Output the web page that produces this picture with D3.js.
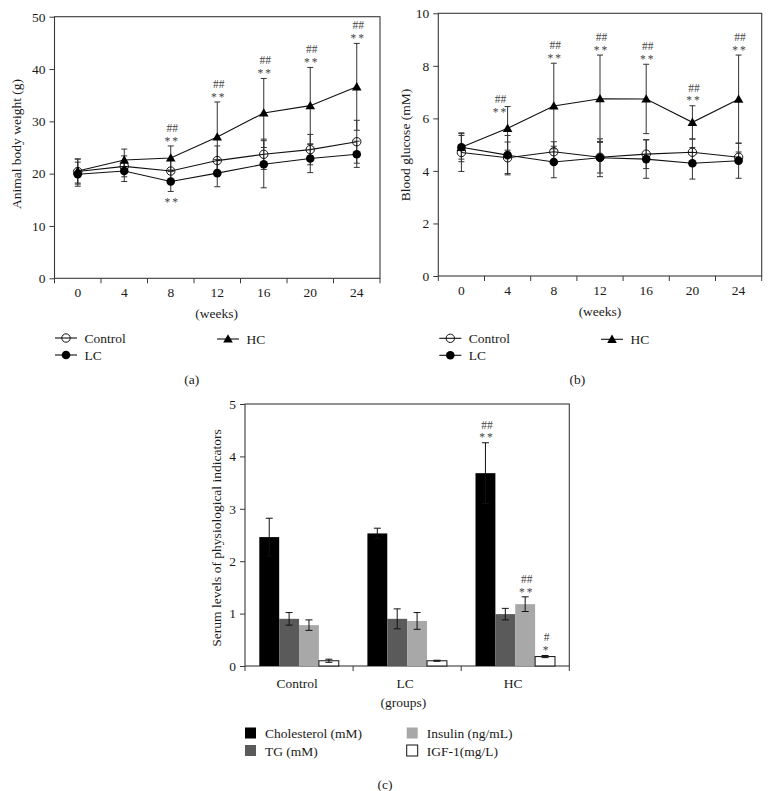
<!DOCTYPE html>
<html><head><meta charset="utf-8">
<script src="https://cdn.jsdelivr.net/npm/d3@7"></script>
<style>
body{margin:0;background:#fff}
text{font-family:"Liberation Serif","DejaVu Serif",serif;fill:#1a1a1a}
</style>
</head><body>
<svg id="chart" width="772" height="791"></svg>
<script>
// ---------------- data ----------------
const weeks = ["0","4","8","12","16","20","24"];

// (a) body weight (g)
const weightControl   = [20.4, 21.4, 20.5, 22.5, 23.7, 24.6, 26.1];
const weightControlSD = [2.4, 2.0, 2.2, 2.8, 2.9, 2.9, 4.1];
const weightLC        = [19.9, 20.5, 18.5, 20.1, 21.8, 22.9, 23.7];
const weightLCSD      = [2.3, 2.0, 1.9, 2.6, 4.5, 2.7, 2.5];
const weightHC        = [20.5, 22.6, 23.0, 27.0, 31.6, 33.0, 36.6];
const weightHCSD      = [2.3, 2.1, 2.3, 6.7, 6.6, 7.3, 8.3];
const weightTicks     = [0, 10, 20, 30, 40, 50];
const weightSigHC     = ["8","12","16","20","24"];
const weightSigLC     = ["8"];

// (b) blood glucose (mM)
const glucoseControl   = [4.70, 4.50, 4.73, 4.52, 4.64, 4.71, 4.52];
const glucoseControlSD = [0.72, 0.60, 0.38, 0.60, 0.55, 0.50, 0.20];
const glucoseLC        = [4.90, 4.60, 4.34, 4.50, 4.45, 4.29, 4.39];
const glucoseLCSD      = [0.45, 0.75, 0.60, 0.72, 0.73, 0.60, 0.67];
const glucoseHC        = [4.90, 5.62, 6.47, 6.75, 6.74, 5.85, 6.73];
const glucoseHCSD      = [0.55, 0.83, 1.63, 1.66, 1.32, 0.63, 1.68];
const glucoseTicks     = [0, 2, 4, 6, 8, 10];
const glucoseSigHC     = ["4","8","12","16","20","24"];

// (c) serum indicators
const groups      = ["Control", "LC", "HC"];
const indicators  = ["Cholesterol (mM)", "TG (mM)", "Insulin (ng/mL)", "IGF-1(mg/L)"];
const cholesterol   = [2.46, 2.53, 3.68];
const cholesterolSD = [0.36, 0.10, 0.58];
const tg            = [0.90, 0.90, 0.99];
const tgSD          = [0.12, 0.19, 0.11];
const insulin       = [0.78, 0.86, 1.18];
const insulinSD     = [0.10, 0.16, 0.14];
const igf1          = [0.10, 0.10, 0.18];
const igf1SD        = [0.03, 0.01, 0.02];
const serumTicks    = [0, 1, 2, 3, 4, 5];
const serumSig      = [["HC","Cholesterol (mM)",["##","**"]],["HC","Insulin (ng/mL)",["##","**"]],["HC","IGF-1(mg/L)",["#","*"]]];

// ---------------- drawing ----------------
const svg = d3.select("#chart");
const AX = "#3a3a3a";
const FS = 13.5;
const FONT = "Liberation Serif, DejaVu Serif, serif";

function sig(g, x, yTop, lines) {
  const n = lines.length;
  lines.forEach((t, k) => {
    const c = yTop - 7.5 - (n - 1 - k) * 10.5;
    const isStar = t.indexOf("*") >= 0;
    g.append("text").attr("x", x).attr("y", c + (isStar ? 6.2 : 3.8))
      .attr("text-anchor", "middle").style("font-size", "11.5px")
      .style("letter-spacing", isStar ? "2px" : "0px")
      .style("fill", "#444").text(t);
  });
}

function marker(g, type, x, y) {
  if (type === "open") {
    g.append("circle").attr("cx", x).attr("cy", y).attr("r", 4.2)
      .attr("fill", "none").attr("stroke", "#111").attr("stroke-width", 1);
  } else if (type === "filled") {
    g.append("circle").attr("cx", x).attr("cy", y).attr("r", 4.3).attr("fill", "#000");
  } else {
    g.append("path").attr("d", d3.symbol(d3.symbolTriangle, 40)())
      .attr("transform", `translate(${x},${y + 0.8})`).attr("fill", "#000");
  }
}

function styleYAxis(ya) {
  ya.select(".domain").remove();
  ya.selectAll("line").attr("stroke", AX);
  ya.selectAll("text").style("font-size", FS + "px").style("font-family", FONT).attr("fill", "#1a1a1a");
}

function linePanel(o) {
  const g = svg.append("g");
  const x = d3.scaleBand().domain(weeks).range([o.x0, o.x1]);
  const y = d3.scaleLinear().domain([0, o.max]).range([o.yb, o.yt]);
  const cx = d => x(d) + x.bandwidth() / 2;

  g.append("rect").attr("x", o.x0).attr("y", o.yt).attr("width", o.x1 - o.x0).attr("height", o.yb - o.yt)
    .attr("fill", "none").attr("stroke", AX).attr("stroke-width", 1.1);

  const ya = g.append("g").attr("transform", `translate(${o.x0},0)`)
    .call(d3.axisLeft(y).tickValues(o.ticks).tickFormat(d3.format("d")).tickSize(5).tickPadding(4));
  styleYAxis(ya);

  const bounds = weeks.map(d => x(d)).concat([o.x1]);
  g.selectAll(".xt").data(bounds).join("line")
    .attr("x1", d => d).attr("x2", d => d).attr("y1", o.yb).attr("y2", o.yb + 5)
    .attr("stroke", AX);
  g.selectAll(".xl").data(weeks).join("text")
    .attr("x", d => cx(d)).attr("y", o.yb + 19).attr("text-anchor", "middle")
    .style("font-size", FS + "px").text(d => d);

  o.series.forEach(s => {
    s.v.forEach((v, i) => {
      const xx = cx(weeks[i]);
      const lo = y(v - s.sd[i]), hi = y(v + s.sd[i]);
      g.append("line").attr("x1", xx).attr("x2", xx).attr("y1", lo).attr("y2", hi).attr("stroke", "#333").attr("stroke-width", 1);
      [lo, hi].forEach(yy => g.append("line").attr("x1", xx - 3).attr("x2", xx + 3).attr("y1", yy).attr("y2", yy).attr("stroke", "#333").attr("stroke-width", 1));
    });
  });
  o.series.forEach(s => {
    const line = d3.line().x((v, i) => cx(weeks[i])).y(v => y(v));
    g.append("path").attr("d", line(s.v)).attr("fill", "none").attr("stroke", "#111").attr("stroke-width", 1.1);
  });
  o.series.forEach(s => {
    s.v.forEach((v, i) => marker(g, s.m, cx(weeks[i]), y(v)));
  });

  const hc = o.series[2];
  o.sigHC.forEach(w => {
    const i = weeks.indexOf(w);
    const top = y(hc.v[i] + hc.sd[i]);
    if (o.sideSig && o.sideSig.includes(w)) {
      sig(g, cx(w) - 7, top + 11, ["##", "**"]);
    } else {
      sig(g, cx(w) + 1.5, top, ["##", "**"]);
    }
  });
  if (o.sigLC) {
    const lc = o.series[1];
    o.sigLC.forEach(w => {
      const i = weeks.indexOf(w);
      const bot = y(lc.v[i] - lc.sd[i]);
      g.append("text").attr("x", cx(w) + 1.5).attr("y", bot + 8 + 6.2).attr("text-anchor", "middle")
        .style("font-size", "11.5px").style("letter-spacing", "2px").style("fill", "#444").text("**");
    });
  }

  g.append("text").attr("transform", `translate(${o.ylx},${o.yly}) rotate(-90)`)
    .attr("text-anchor", "middle").style("font-size", FS + "px").text(o.ylabel);
  g.append("text").attr("x", o.wx).attr("y", o.yb + 40).attr("text-anchor", "middle")
    .style("font-size", FS + "px").text("(weeks)");

  const L = o.leg;
  const items = [
    {name: "Control", m: "open", x: L.x1, y: L.y1},
    {name: "LC", m: "filled", x: L.x1, y: L.y1 + 17},
    {name: "HC", m: "tri", x: L.x2, y: L.y1 + 1}
  ];
  items.forEach(it => {
    g.append("line").attr("x1", it.x).attr("x2", it.x + 22).attr("y1", it.y).attr("y2", it.y).attr("stroke", "#111").attr("stroke-width", 1.1);
    marker(g, it.m, it.x + 11, it.y);
    g.append("text").attr("x", it.x + 29.5).attr("y", it.y + 4.5).style("font-size", FS + "px").text(it.name);
  });
  g.append("text").attr("x", o.px).attr("y", 384).attr("text-anchor", "middle").style("font-size", FS + "px").text(o.plabel);
}

linePanel({
  x0: 54.5, x1: 380, yt: 16.7, yb: 278.3, max: 50, ticks: weightTicks,
  series: [
    {v: weightControl, sd: weightControlSD, m: "open"},
    {v: weightLC, sd: weightLCSD, m: "filled"},
    {v: weightHC, sd: weightHCSD, m: "tri"}
  ],
  sigHC: weightSigHC, sigLC: weightSigLC,
  ylabel: "Animal body weight (g)", ylx: 21, yly: 144, wx: 216.7,
  leg: {x1: 55, x2: 217, y1: 338}, px: 191.7, plabel: "(a)"
});

linePanel({
  x0: 438.3, x1: 761.7, yt: 13.3, yb: 276, max: 10, ticks: glucoseTicks,
  series: [
    {v: glucoseControl, sd: glucoseControlSD, m: "open"},
    {v: glucoseLC, sd: glucoseLCSD, m: "filled"},
    {v: glucoseHC, sd: glucoseHCSD, m: "tri"}
  ],
  sigHC: glucoseSigHC, sideSig: ["4"],
  ylabel: "Blood glucose (mM)", ylx: 410, yly: 145, wx: 600,
  leg: {x1: 439.3, x2: 601, y1: 338.3}, px: 577.3, plabel: "(b)"
});

// ---------------- (c) bar chart ----------------
(function() {
  const g = svg.append("g");
  const x0 = 245, x1 = 569.3, yt = 404, yb = 666;
  const x = d3.scaleBand().domain(groups).range([x0, x1]);
  const xi = d3.scaleBand().domain(indicators).range([0, x.bandwidth()]).paddingInner(0).paddingOuter(0.72);
  const y = d3.scaleLinear().domain([0, 5]).range([yb, yt]);
  const colors = d3.scaleOrdinal().domain(indicators).range(["#000000", "#5a5a5a", "#a8a8a8", "#ffffff"]);
  const vals = {"Cholesterol (mM)": [cholesterol, cholesterolSD], "TG (mM)": [tg, tgSD],
                "Insulin (ng/mL)": [insulin, insulinSD], "IGF-1(mg/L)": [igf1, igf1SD]};

  g.append("rect").attr("x", x0).attr("y", yt).attr("width", x1 - x0).attr("height", yb - yt)
    .attr("fill", "none").attr("stroke", AX).attr("stroke-width", 1.1);

  groups.forEach((grp, gi) => {
    indicators.forEach(ind => {
      const v = vals[ind][0][gi], sd = vals[ind][1][gi];
      const bx = x(grp) + xi(ind);
      const isWhite = ind === "IGF-1(mg/L)";
      g.append("rect").attr("x", bx).attr("y", y(v)).attr("width", xi.bandwidth()).attr("height", yb - y(v))
        .attr("fill", colors(ind)).attr("stroke", isWhite ? "#111" : "none").attr("stroke-width", 1);
      const cx = bx + xi.bandwidth() / 2;
      const lo = y(v - sd), hi = y(v + sd);
      g.append("line").attr("x1", cx).attr("x2", cx).attr("y1", lo).attr("y2", hi).attr("stroke", "#111");
      [lo, hi].forEach(yy => g.append("line").attr("x1", cx - 3.5).attr("x2", cx + 3.5).attr("y1", yy).attr("y2", yy).attr("stroke", "#111"));
    });
  });

  serumSig.forEach(([grp, ind, lines]) => {
    const gi = groups.indexOf(grp);
    const v = vals[ind][0][gi], sd = vals[ind][1][gi];
    const cx = x(grp) + xi(ind) + xi.bandwidth() / 2;
    sig(g, cx + 1.5, y(v + sd), lines);
  });

  const ya = g.append("g").attr("transform", `translate(${x0},0)`)
    .call(d3.axisLeft(y).tickValues(serumTicks).tickFormat(d3.format("d")).tickSize(5).tickPadding(4));
  styleYAxis(ya);

  const bounds = groups.map(d => x(d)).concat([x1]);
  g.selectAll(".xt").data(bounds).join("line")
    .attr("x1", d => d).attr("x2", d => d).attr("y1", yb).attr("y2", yb + 5).attr("stroke", AX);
  g.selectAll(".xl").data(groups).join("text")
    .attr("x", d => x(d) + x.bandwidth() / 2 - 2).attr("y", yb + 21.5).attr("text-anchor", "middle")
    .style("font-size", FS + "px").text(d => d);

  g.append("text").attr("x", 403.3).attr("y", 707).attr("text-anchor", "middle").style("font-size", FS + "px").text("(groups)");
  g.append("text").attr("transform", `translate(221,538) rotate(-90)`).attr("text-anchor", "middle")
    .style("font-size", FS + "px").text("Serum levels of physiological indicators");

  const legPos = [[245, 727.5], [245, 745], [406.7, 727.5], [406.7, 745]];
  indicators.forEach((ind, k) => {
    const [lx, ly] = legPos[k];
    g.append("rect").attr("x", lx).attr("y", ly).attr("width", 11).attr("height", 11)
      .attr("fill", colors(ind)).attr("stroke", ind === "IGF-1(mg/L)" ? "#111" : "none");
    g.append("text").attr("x", lx + 20).attr("y", ly + 10.5).style("font-size", FS + "px").text(ind);
  });
  g.append("text").attr("x", 385).attr("y", 789).attr("text-anchor", "middle").style("font-size", FS + "px").text("(c)");
})();
</script>
</body></html>
